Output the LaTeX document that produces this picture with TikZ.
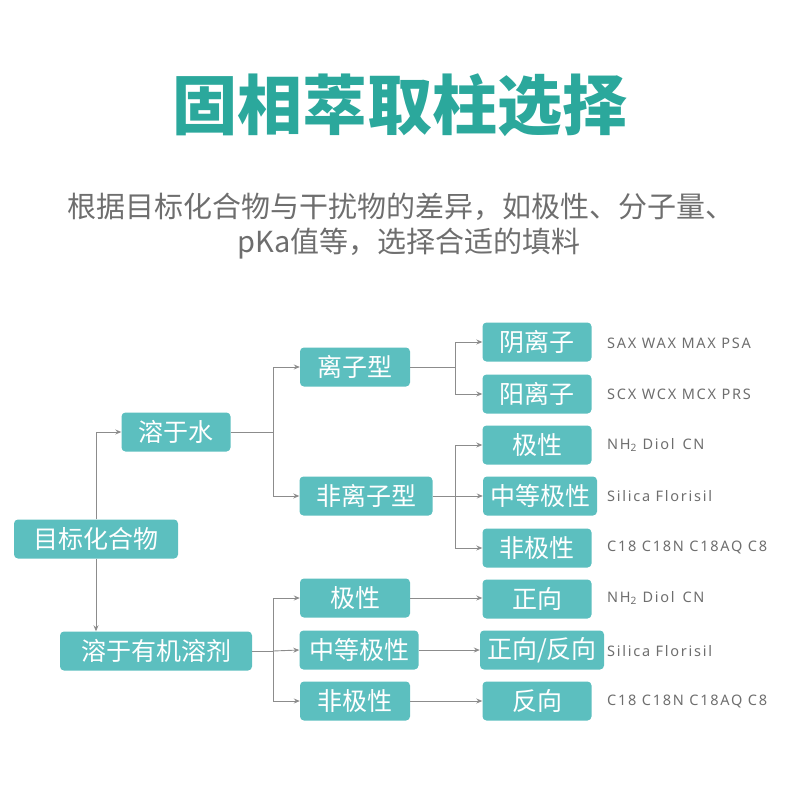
\documentclass[tikz,border=0pt]{standalone}
\usepackage{fontspec}
\setmainfont{Noto Sans CJK SC}
\newfontfamily\labfont[LetterSpace=12]{Noto Sans}
\usetikzlibrary{arrows.meta}
\definecolor{teal1}{HTML}{2BA89C}
\definecolor{boxc}{HTML}{5CBFBF}
\definecolor{txtg}{HTML}{6E6E6E}
\definecolor{lineg}{HTML}{8C8C8C}
\begin{document}
\begin{tikzpicture}[x=1pt,y=-1pt,
 box/.style={fill=boxc,rounded corners=4pt,text=white,font=\fontsize{25}{27}\selectfont,inner sep=0pt,minimum height=39pt},
 lab/.style={anchor=west,text=txtg,font=\labfont\fontsize{14.5}{16}\selectfont,inner sep=0pt},
 ln/.style={draw=lineg,line width=0.9pt},
 ar/.style={ln,-{Stealth[length=6pt,width=5pt]}}]
\useasboundingbox (0,0) rectangle (800,800);
\node[text=teal1,font=\fontsize{65}{68}\selectfont\bfseries] (title) at (400,105) {固相萃取柱选择};
\node[text=txtg,font=\fontsize{29}{32}\selectfont] (s1) at (401,207) {根据目标化合物与干扰物的差异，如极性、分子量、};
\node[text=txtg,font=\fontsize{29}{32}\selectfont,anchor=west] (s2) at (234,244) {pKa值等，选择合适的填料};

\node[box,minimum width=164pt] (root) at (96,539) {目标化合物};
\node[box,minimum width=109pt] (w) at (176,432) {溶于水};
\node[box,minimum width=192pt] (o) at (156,651) {溶于有机溶剂};
\node[box,minimum width=110pt] (ion) at (355,367) {离子型};
\node[box,minimum width=133pt] (nion) at (366,496) {非离子型};
\node[box,minimum width=109pt] (an) at (537,342) {阴离子};
\node[box,minimum width=109pt] (ca) at (537,394) {阳离子};
\node[box,minimum width=109pt] (p1) at (537,445) {极性};
\node[box,minimum width=114pt] (m1) at (540,496) {中等极性};
\node[box,minimum width=109pt] (n1) at (537,548) {非极性};
\node[box,minimum width=110pt] (p2) at (355,598) {极性};
\node[box,minimum width=119pt] (m2) at (359,650) {中等极性};
\node[box,minimum width=110pt] (n2) at (355,701) {非极性};
\node[box,minimum width=109pt] (f) at (537,599) {正向};
\node[box,minimum width=124pt] (fr) at (542,650) {正向/反向};
\node[box,minimum width=109pt] (r) at (537,701) {反向};

\node[lab] (l1) at (607,343) {SAX WAX MAX PSA};
\node[lab] (l2) at (607,394) {SCX WCX MCX PRS};
\node[lab] (l3) at (607,445) {NH\textsubscript{2} Diol\, CN};
\node[lab] (l4) at (607,496) {Silica Florisil};
\node[lab] (l5) at (607,547) {C18 C18N C18AQ C8};
\node[lab] (l6) at (607,598) {NH\textsubscript{2} Diol\, CN};
\node[lab] (l7) at (607,651) {Silica Florisil};
\node[lab] (l8) at (607,701) {C18 C18N C18AQ C8};

\draw[ar] (root.north) |- (w.west);
\draw[ar] (root.south) -- (root.south |- o.north);
\coordinate (j1) at (273,432);
\draw[ln] (w.east) -- (j1);
\draw[ar] (j1) |- (ion.west);
\draw[ar] (j1) |- (nion.west);
\coordinate (j2) at (455,367);
\draw[ln] (ion.east) -- (j2);
\draw[ar] (j2) |- (an.west);
\draw[ar] (j2) |- (ca.west);
\coordinate (j3) at (455,496);
\draw[ar] (nion.east) -- (m1.west);
\draw[ar] (j3) |- (p1.west);
\draw[ar] (j3) |- (n1.west);
\coordinate (j4) at (273,651);
\draw[ln] (o.east) -- (j4);
\draw[ar] (j4) |- (p2.west);
\draw[ar] (j4) -- (m2.west);
\draw[ar] (j4) |- (n2.west);
\draw[ar] (p2.east) -- (p2.east -| f.west);
\draw[ar] (m2.east) -- (m2.east -| fr.west);
\draw[ar] (n2.east) -- (n2.east -| r.west);
\end{tikzpicture}
\end{document}
